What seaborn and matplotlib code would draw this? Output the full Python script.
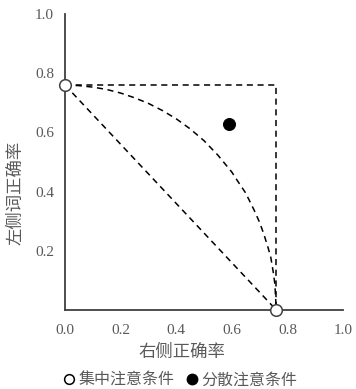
import matplotlib
matplotlib.use("Agg")
import matplotlib.pyplot as plt
from matplotlib.lines import Line2D
import numpy as np
import pandas as pd
import seaborn as sns

# points
focus_x = [0.0, 0.76]
focus_y = [0.76, 0.0]
divided_x = [0.59]
divided_y = [0.63]

# reference lines
diag_x = [0.0, 0.76]
diag_y = [0.76, 0.0]
box_x = [0.0, 0.76, 0.76]
box_y = [0.76, 0.76, 0.0]
curve_x = [0.0, 0.05, 0.10, 0.15, 0.20, 0.25, 0.30, 0.35, 0.40, 0.45, 0.50,
           0.55, 0.60, 0.62, 0.65, 0.68, 0.70, 0.715, 0.73, 0.74, 0.75,
           0.755, 0.76]
curve_y = [0.76, 0.758, 0.753, 0.745, 0.733, 0.717, 0.698, 0.674, 0.646,
           0.612, 0.572, 0.523, 0.466, 0.437, 0.395, 0.338, 0.296, 0.257,
           0.212, 0.179, 0.123, 0.087, 0.0]

x_ticks = [0.0, 0.2, 0.4, 0.6, 0.8, 1.0]
x_ticklabels = ["0.0", "0.2", "0.4", "0.6", "0.8", "1.0"]
y_ticks = [0.2, 0.4, 0.6, 0.8, 1.0]
y_ticklabels = ["0.2", "0.4", "0.6", "0.8", "1.0"]

xlabel = "右侧正确率"
ylabel = "左侧词正确率"
legend_labels = ["集中注意条件", "分散注意条件"]

sns.set_style("white")
plt.rcParams["font.family"] = ["Liberation Serif", "Noto Sans CJK SC"]
cjk = ["Noto Sans CJK SC", "DejaVu Sans"]
axis_col = "#404040"
text_col = "#595959"

fig = plt.figure(figsize = (3.56, 3.89), dpi = 100)
ax = fig.add_axes([0.1826, 0.2031, 0.7809, 0.7609])

dash = (4, 3)
line_kw = dict(color = "black", linewidth = 1.1, estimator = None, sort = False,
               legend = False, ax = ax)

sns.lineplot(x = box_x, y = box_y, **line_kw).lines[-1].set_dashes(dash)
sns.lineplot(x = diag_x, y = diag_y, **line_kw).lines[-1].set_dashes(dash)
sns.lineplot(x = curve_x, y = curve_y, **line_kw).lines[-1].set_dashes(dash)

sns.scatterplot(x = focus_x, y = focus_y, s = 70, facecolor = "white",
                edgecolor = axis_col, linewidth = 1.1, zorder = 5,
                clip_on = False, ax = ax)
sns.scatterplot(x = divided_x, y = divided_y, s = 75, color = "black",
                edgecolor = "black", zorder = 5, ax = ax)

ax.set_xlim(0, 1.0)
ax.set_ylim(0, 1.0)
ax.set_xticks(x_ticks)
ax.set_xticklabels(x_ticklabels)
ax.set_yticks(y_ticks)
ax.set_yticklabels(y_ticklabels)
ax.tick_params(direction = "in", length = 3, width = 1, color = axis_col,
               labelsize = 11, labelcolor = text_col, pad = 8)
ax.tick_params(axis = "x", pad = 10)

for side in ["top", "right"]:
    ax.spines[side].set_visible(False)
for side in ["left", "bottom"]:
    ax.spines[side].set_color(axis_col)
    ax.spines[side].set_linewidth(1.3)

ax.set_xlabel("")
ax.set_ylabel("")
fig.text(0.512, 1 - 352 / 389, xlabel, ha = "center", va = "center",
         fontsize = 12.5, color = text_col, family = cjk)
fig.text(15 / 356, 1 - 193 / 389, ylabel, ha = "center", va = "center",
         rotation = 90, fontsize = 12.5, color = text_col, family = cjk)

handles = [
    Line2D([], [], linestyle = "none", marker = "o", markersize = 7,
           markerfacecolor = "white", markeredgecolor = "black",
           markeredgewidth = 1.1),
    Line2D([], [], linestyle = "none", marker = "o", markersize = 7.5,
           markerfacecolor = "black", markeredgecolor = "black"),
]
fig.legend(handles, legend_labels, loc = "center", ncol = 2,
           bbox_to_anchor = (0.503, 1 - 380 / 389), frameon = False,
           prop = {"family": cjk, "size": 11.5}, labelcolor = text_col,
           handletextpad = 0.1, columnspacing = 0.6, handlelength = 1.0)

fig.savefig("out.png", dpi = 100)
